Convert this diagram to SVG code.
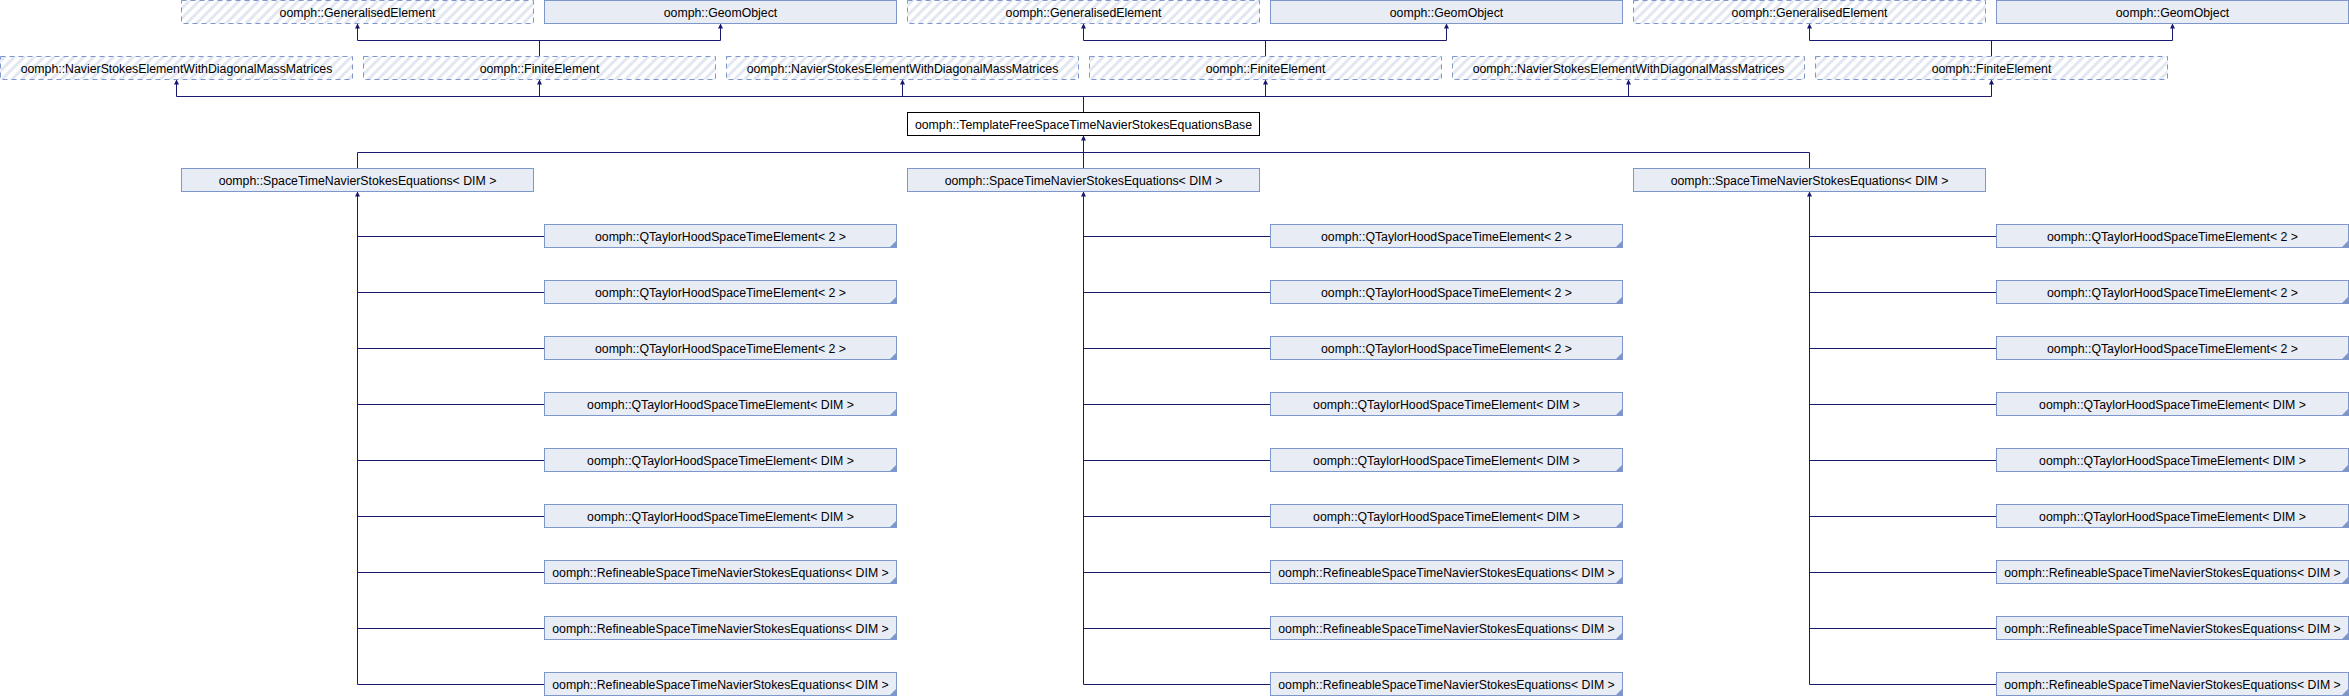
<svg xmlns="http://www.w3.org/2000/svg" width="2349" height="696" viewBox="0 0 2349 696">
<style>
.b{fill:#E8ECF5;stroke:#7D96CB;stroke-width:1}
.h{fill:url(#hatch);stroke:#7D96CB;stroke-width:1;stroke-dasharray:5,4}
.w{fill:#FFFFFF;stroke:#000000;stroke-width:1}
.t{font-family:"Liberation Sans",Arial,Helvetica,sans-serif;font-size:12.3px;fill:#000000;text-anchor:middle}
.c{fill:none;stroke:#191970;stroke-width:1}
.c2{fill:none;stroke:#191970;stroke-width:1;marker-end:url(#arr)}
.k{fill:#7D96CB}
</style>
<defs>
<pattern id="hatch" patternUnits="userSpaceOnUse" width="7" height="7" patternTransform="rotate(45)">
<rect width="7" height="7" fill="#FFFFFF"/>
<rect width="3" height="7" fill="#E2E7F1"/>
</pattern>
<marker id="arr" viewBox="0 0 10 10" refX="10" refY="5" markerWidth="7" markerHeight="5" orient="auto" markerUnits="userSpaceOnUse">
<path d="M0,0 L10,5 L0,10 z" fill="#191970"/>
</marker>
</defs>

<g id="connectors">
<!-- row2 -> row1 -->
<path class="c" d="M539.5,56.5 V40.5 M357.5,40.5 H720.5"/>
<path class="c2" d="M357.5,40.5 V23.5"/>
<path class="c2" d="M720.5,40.5 V23.5"/>
<path class="c" d="M1265.5,56.5 V40.5 M1083.5,40.5 H1446.5"/>
<path class="c2" d="M1083.5,40.5 V23.5"/>
<path class="c2" d="M1446.5,40.5 V23.5"/>
<path class="c" d="M1991.5,56.5 V40.5 M1809.5,40.5 H2172.5"/>
<path class="c2" d="M1809.5,40.5 V23.5"/>
<path class="c2" d="M2172.5,40.5 V23.5"/>
<!-- row3 -> row2 -->
<path class="c" d="M1083.5,112.5 V96.5 M176.5,96.5 H1991.5"/>
<path class="c2" d="M176.5,96.5 V79.5"/>
<path class="c2" d="M539.5,96.5 V79.5"/>
<path class="c2" d="M902.5,96.5 V79.5"/>
<path class="c2" d="M1265.5,96.5 V79.5"/>
<path class="c2" d="M1628.5,96.5 V79.5"/>
<path class="c2" d="M1991.5,96.5 V79.5"/>
<!-- row4 -> row3 -->
<path class="c" d="M357.5,168.5 V152.5 M1809.5,168.5 V152.5 M1083.5,168.5 V152.5 M357.5,152.5 H1809.5"/>
<path class="c2" d="M1083.5,152.5 V135.5"/>
<!-- children -> row4 -->
<path class="c" d="M357.5,684.5 V198 M357.5,236.5 H544.5 M357.5,292.5 H544.5 M357.5,348.5 H544.5 M357.5,404.5 H544.5 M357.5,460.5 H544.5 M357.5,516.5 H544.5 M357.5,572.5 H544.5 M357.5,628.5 H544.5 M357.5,684.5 H544.5"/>
<path class="c2" d="M357.5,200 V191.5"/>
<path class="c" d="M1083.5,684.5 V198 M1083.5,236.5 H1270.5 M1083.5,292.5 H1270.5 M1083.5,348.5 H1270.5 M1083.5,404.5 H1270.5 M1083.5,460.5 H1270.5 M1083.5,516.5 H1270.5 M1083.5,572.5 H1270.5 M1083.5,628.5 H1270.5 M1083.5,684.5 H1270.5"/>
<path class="c2" d="M1083.5,200 V191.5"/>
<path class="c" d="M1809.5,684.5 V198 M1809.5,236.5 H1996.5 M1809.5,292.5 H1996.5 M1809.5,348.5 H1996.5 M1809.5,404.5 H1996.5 M1809.5,460.5 H1996.5 M1809.5,516.5 H1996.5 M1809.5,572.5 H1996.5 M1809.5,628.5 H1996.5 M1809.5,684.5 H1996.5"/>
<path class="c2" d="M1809.5,200 V191.5"/>
</g>

<!-- Row 1 -->
<g id="ge1"><rect class="h" x="181.5" y="0.5" width="352" height="23"/><text class="t" x="357.5" y="16.5">oomph::GeneralisedElement</text></g>
<g id="go1"><rect class="b" x="544.5" y="0.5" width="352" height="23"/><text class="t" x="720.5" y="16.5">oomph::GeomObject</text></g>
<g id="ge2"><rect class="h" x="907.5" y="0.5" width="352" height="23"/><text class="t" x="1083.5" y="16.5">oomph::GeneralisedElement</text></g>
<g id="go2"><rect class="b" x="1270.5" y="0.5" width="352" height="23"/><text class="t" x="1446.5" y="16.5">oomph::GeomObject</text></g>
<g id="ge3"><rect class="h" x="1633.5" y="0.5" width="352" height="23"/><text class="t" x="1809.5" y="16.5">oomph::GeneralisedElement</text></g>
<g id="go3"><rect class="b" x="1996.5" y="0.5" width="352" height="23"/><text class="t" x="2172.5" y="16.5">oomph::GeomObject</text></g>

<!-- Row 2 -->
<g id="ns1"><rect class="h" x="0.5" y="56.5" width="352" height="23"/><text class="t" x="176.5" y="72.5">oomph::NavierStokesElementWithDiagonalMassMatrices</text></g>
<g id="fe1"><rect class="h" x="363.5" y="56.5" width="352" height="23"/><text class="t" x="539.5" y="72.5">oomph::FiniteElement</text></g>
<g id="ns2"><rect class="h" x="726.5" y="56.5" width="352" height="23"/><text class="t" x="902.5" y="72.5">oomph::NavierStokesElementWithDiagonalMassMatrices</text></g>
<g id="fe2"><rect class="h" x="1089.5" y="56.5" width="352" height="23"/><text class="t" x="1265.5" y="72.5">oomph::FiniteElement</text></g>
<g id="ns3"><rect class="h" x="1452.5" y="56.5" width="352" height="23"/><text class="t" x="1628.5" y="72.5">oomph::NavierStokesElementWithDiagonalMassMatrices</text></g>
<g id="fe3"><rect class="h" x="1815.5" y="56.5" width="352" height="23"/><text class="t" x="1991.5" y="72.5">oomph::FiniteElement</text></g>

<!-- Row 3 -->
<g id="tf"><rect class="w" x="907.5" y="112.5" width="352" height="23"/><text class="t" x="1083.5" y="128.5">oomph::TemplateFreeSpaceTimeNavierStokesEquationsBase</text></g>

<!-- Row 4 -->
<g id="st1"><rect class="b" x="181.5" y="168.5" width="352" height="23"/><text class="t" x="357.5" y="184.5">oomph::SpaceTimeNavierStokesEquations&lt; DIM &gt;</text></g>
<g id="st2"><rect class="b" x="907.5" y="168.5" width="352" height="23"/><text class="t" x="1083.5" y="184.5">oomph::SpaceTimeNavierStokesEquations&lt; DIM &gt;</text></g>
<g id="st3"><rect class="b" x="1633.5" y="168.5" width="352" height="23"/><text class="t" x="1809.5" y="184.5">oomph::SpaceTimeNavierStokesEquations&lt; DIM &gt;</text></g>

<!-- Children group 1 -->
<g id="c1_1"><rect class="b" x="544.5" y="224.5" width="352" height="23"/><path class="k" d="M896,241 V247 H890 z"/><text class="t" x="720.5" y="240.5">oomph::QTaylorHoodSpaceTimeElement&lt; 2 &gt;</text></g>
<g id="c1_2"><rect class="b" x="544.5" y="280.5" width="352" height="23"/><path class="k" d="M896,297 V303 H890 z"/><text class="t" x="720.5" y="296.5">oomph::QTaylorHoodSpaceTimeElement&lt; 2 &gt;</text></g>
<g id="c1_3"><rect class="b" x="544.5" y="336.5" width="352" height="23"/><path class="k" d="M896,353 V359 H890 z"/><text class="t" x="720.5" y="352.5">oomph::QTaylorHoodSpaceTimeElement&lt; 2 &gt;</text></g>
<g id="c1_4"><rect class="b" x="544.5" y="392.5" width="352" height="23"/><path class="k" d="M896,409 V415 H890 z"/><text class="t" x="720.5" y="408.5">oomph::QTaylorHoodSpaceTimeElement&lt; DIM &gt;</text></g>
<g id="c1_5"><rect class="b" x="544.5" y="448.5" width="352" height="23"/><path class="k" d="M896,465 V471 H890 z"/><text class="t" x="720.5" y="464.5">oomph::QTaylorHoodSpaceTimeElement&lt; DIM &gt;</text></g>
<g id="c1_6"><rect class="b" x="544.5" y="504.5" width="352" height="23"/><path class="k" d="M896,521 V527 H890 z"/><text class="t" x="720.5" y="520.5">oomph::QTaylorHoodSpaceTimeElement&lt; DIM &gt;</text></g>
<g id="c1_7"><rect class="b" x="544.5" y="560.5" width="352" height="23"/><path class="k" d="M896,577 V583 H890 z"/><text class="t" x="720.5" y="576.5">oomph::RefineableSpaceTimeNavierStokesEquations&lt; DIM &gt;</text></g>
<g id="c1_8"><rect class="b" x="544.5" y="616.5" width="352" height="23"/><path class="k" d="M896,633 V639 H890 z"/><text class="t" x="720.5" y="632.5">oomph::RefineableSpaceTimeNavierStokesEquations&lt; DIM &gt;</text></g>
<g id="c1_9"><rect class="b" x="544.5" y="672.5" width="352" height="23"/><path class="k" d="M896,689 V695 H890 z"/><text class="t" x="720.5" y="688.5">oomph::RefineableSpaceTimeNavierStokesEquations&lt; DIM &gt;</text></g>

<!-- Children group 2 -->
<g id="c2_1"><rect class="b" x="1270.5" y="224.5" width="352" height="23"/><path class="k" d="M1622,241 V247 H1616 z"/><text class="t" x="1446.5" y="240.5">oomph::QTaylorHoodSpaceTimeElement&lt; 2 &gt;</text></g>
<g id="c2_2"><rect class="b" x="1270.5" y="280.5" width="352" height="23"/><path class="k" d="M1622,297 V303 H1616 z"/><text class="t" x="1446.5" y="296.5">oomph::QTaylorHoodSpaceTimeElement&lt; 2 &gt;</text></g>
<g id="c2_3"><rect class="b" x="1270.5" y="336.5" width="352" height="23"/><path class="k" d="M1622,353 V359 H1616 z"/><text class="t" x="1446.5" y="352.5">oomph::QTaylorHoodSpaceTimeElement&lt; 2 &gt;</text></g>
<g id="c2_4"><rect class="b" x="1270.5" y="392.5" width="352" height="23"/><path class="k" d="M1622,409 V415 H1616 z"/><text class="t" x="1446.5" y="408.5">oomph::QTaylorHoodSpaceTimeElement&lt; DIM &gt;</text></g>
<g id="c2_5"><rect class="b" x="1270.5" y="448.5" width="352" height="23"/><path class="k" d="M1622,465 V471 H1616 z"/><text class="t" x="1446.5" y="464.5">oomph::QTaylorHoodSpaceTimeElement&lt; DIM &gt;</text></g>
<g id="c2_6"><rect class="b" x="1270.5" y="504.5" width="352" height="23"/><path class="k" d="M1622,521 V527 H1616 z"/><text class="t" x="1446.5" y="520.5">oomph::QTaylorHoodSpaceTimeElement&lt; DIM &gt;</text></g>
<g id="c2_7"><rect class="b" x="1270.5" y="560.5" width="352" height="23"/><path class="k" d="M1622,577 V583 H1616 z"/><text class="t" x="1446.5" y="576.5">oomph::RefineableSpaceTimeNavierStokesEquations&lt; DIM &gt;</text></g>
<g id="c2_8"><rect class="b" x="1270.5" y="616.5" width="352" height="23"/><path class="k" d="M1622,633 V639 H1616 z"/><text class="t" x="1446.5" y="632.5">oomph::RefineableSpaceTimeNavierStokesEquations&lt; DIM &gt;</text></g>
<g id="c2_9"><rect class="b" x="1270.5" y="672.5" width="352" height="23"/><path class="k" d="M1622,689 V695 H1616 z"/><text class="t" x="1446.5" y="688.5">oomph::RefineableSpaceTimeNavierStokesEquations&lt; DIM &gt;</text></g>

<!-- Children group 3 -->
<g id="c3_1"><rect class="b" x="1996.5" y="224.5" width="352" height="23"/><path class="k" d="M2348,241 V247 H2342 z"/><text class="t" x="2172.5" y="240.5">oomph::QTaylorHoodSpaceTimeElement&lt; 2 &gt;</text></g>
<g id="c3_2"><rect class="b" x="1996.5" y="280.5" width="352" height="23"/><path class="k" d="M2348,297 V303 H2342 z"/><text class="t" x="2172.5" y="296.5">oomph::QTaylorHoodSpaceTimeElement&lt; 2 &gt;</text></g>
<g id="c3_3"><rect class="b" x="1996.5" y="336.5" width="352" height="23"/><path class="k" d="M2348,353 V359 H2342 z"/><text class="t" x="2172.5" y="352.5">oomph::QTaylorHoodSpaceTimeElement&lt; 2 &gt;</text></g>
<g id="c3_4"><rect class="b" x="1996.5" y="392.5" width="352" height="23"/><path class="k" d="M2348,409 V415 H2342 z"/><text class="t" x="2172.5" y="408.5">oomph::QTaylorHoodSpaceTimeElement&lt; DIM &gt;</text></g>
<g id="c3_5"><rect class="b" x="1996.5" y="448.5" width="352" height="23"/><path class="k" d="M2348,465 V471 H2342 z"/><text class="t" x="2172.5" y="464.5">oomph::QTaylorHoodSpaceTimeElement&lt; DIM &gt;</text></g>
<g id="c3_6"><rect class="b" x="1996.5" y="504.5" width="352" height="23"/><path class="k" d="M2348,521 V527 H2342 z"/><text class="t" x="2172.5" y="520.5">oomph::QTaylorHoodSpaceTimeElement&lt; DIM &gt;</text></g>
<g id="c3_7"><rect class="b" x="1996.5" y="560.5" width="352" height="23"/><path class="k" d="M2348,577 V583 H2342 z"/><text class="t" x="2172.5" y="576.5">oomph::RefineableSpaceTimeNavierStokesEquations&lt; DIM &gt;</text></g>
<g id="c3_8"><rect class="b" x="1996.5" y="616.5" width="352" height="23"/><path class="k" d="M2348,633 V639 H2342 z"/><text class="t" x="2172.5" y="632.5">oomph::RefineableSpaceTimeNavierStokesEquations&lt; DIM &gt;</text></g>
<g id="c3_9"><rect class="b" x="1996.5" y="672.5" width="352" height="23"/><path class="k" d="M2348,689 V695 H2342 z"/><text class="t" x="2172.5" y="688.5">oomph::RefineableSpaceTimeNavierStokesEquations&lt; DIM &gt;</text></g>
</svg>
